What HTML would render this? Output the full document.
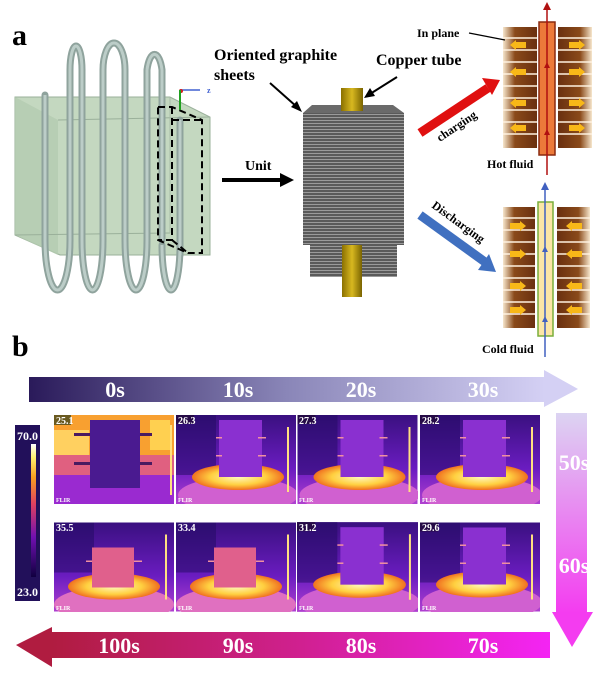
<!DOCTYPE html>
<html><head><meta charset="utf-8"><style>
html,body{margin:0;padding:0;background:#fff;width:600px;height:688px;overflow:hidden}
svg{display:block}
text{font-family:"Liberation Serif",serif;font-weight:bold}
</style></head><body>
<svg width="600" height="688" viewBox="0 0 600 688" xmlns="http://www.w3.org/2000/svg">
<defs>
<linearGradient id="gTop" x1="0" x2="1"><stop offset="0" stop-color="#2a1a5a"/><stop offset="0.5" stop-color="#8a86b8"/><stop offset="1" stop-color="#d4d0f4"/></linearGradient>
<linearGradient id="gDown" x1="0" y1="0" x2="0" y2="1"><stop offset="0" stop-color="#dcd4f2"/><stop offset="1" stop-color="#f43cf0"/></linearGradient>
<linearGradient id="gBot" x1="0" x2="1"><stop offset="0" stop-color="#b01c40"/><stop offset="0.5" stop-color="#d02090"/><stop offset="1" stop-color="#f424f4"/></linearGradient>
<linearGradient id="slab" x1="0" x2="1"><stop offset="0" stop-color="#f6e6cc"/><stop offset="0.35" stop-color="#8a4a1a"/><stop offset="1" stop-color="#6a3010"/></linearGradient>
<linearGradient id="slabR" x1="1" x2="0"><stop offset="0" stop-color="#f6e6cc"/><stop offset="0.35" stop-color="#8a4a1a"/><stop offset="1" stop-color="#6a3010"/></linearGradient>
<linearGradient id="cbar" x1="0" y1="1" x2="0" y2="0"><stop offset="0" stop-color="#100040"/><stop offset="0.3" stop-color="#7010b0"/><stop offset="0.55" stop-color="#e04060"/><stop offset="0.75" stop-color="#f8a020"/><stop offset="0.9" stop-color="#fff070"/><stop offset="1" stop-color="#ffffff"/></linearGradient>
<linearGradient id="pbg" x1="0" y1="0" x2="0" y2="1"><stop offset="0" stop-color="#3a1080"/><stop offset="0.6" stop-color="#6a1cc0"/><stop offset="1" stop-color="#b040d0"/></linearGradient>
<radialGradient id="ring"><stop offset="0" stop-color="#fff8c0"/><stop offset="0.6" stop-color="#ffd040"/><stop offset="1" stop-color="#f07020"/></radialGradient>
<linearGradient id="gray" x1="0" x2="1"><stop offset="0" stop-color="#6a6a6a"/><stop offset="1" stop-color="#4a4a4a"/></linearGradient>
<linearGradient id="cu" x1="0" x2="1"><stop offset="0" stop-color="#8a7000"/><stop offset="0.5" stop-color="#d8b820"/><stop offset="1" stop-color="#7a6400"/></linearGradient>
<pattern id="lines" width="4" height="3" patternUnits="userSpaceOnUse"><rect width="4" height="3" fill="#5a5a5a"/><rect width="4" height="1" fill="#9a9a9a"/></pattern>
<symbol id="panel" viewBox="0 0 120 89">
<rect width="120" height="89" fill="url(#pbg)"/>
<rect x="0" y="0" width="40" height="60" fill="#200a60" opacity="0.5"/>
<ellipse cx="62" cy="80" rx="60" ry="18" fill="#d060d0"/>
<ellipse cx="62" cy="62" rx="46" ry="13" fill="url(#ring)"/>
<rect x="43" y="5" width="43" height="57" fill="#8a30d0"/>
<rect x="40" y="40" width="6" height="1.5" fill="#f090a0"/><rect x="82" y="40" width="8" height="1.5" fill="#f090a0"/>
<rect x="40" y="22" width="6" height="1.5" fill="#f090a0"/><rect x="82" y="22" width="8" height="1.5" fill="#f090a0"/>
<rect x="111" y="12" width="2" height="65" fill="#ffe080"/>
<rect x="0" y="0" width="18" height="9" fill="#20082a" opacity="0.6"/>
</symbol>
<symbol id="panel2" viewBox="0 0 120 89">
<rect width="120" height="89" fill="url(#pbg)"/>
<rect x="0" y="0" width="40" height="50" fill="#200a60" opacity="0.5"/>
<ellipse cx="60" cy="82" rx="60" ry="18" fill="#e070c0"/>
<ellipse cx="60" cy="64" rx="46" ry="13" fill="url(#ring)"/>
<rect x="38" y="25" width="42" height="40" fill="#e0608c"/>
<rect x="32" y="38" width="6" height="1.5" fill="#f090a0"/><rect x="80" y="38" width="8" height="1.5" fill="#f090a0"/>
<rect x="111" y="12" width="2" height="65" fill="#ffe080"/>
</symbol>
</defs>

<!-- a -->
<text x="12" y="45" font-size="30" fill="#000">a</text>
<!-- Green box -->
<polygon points="15,97 170,97 210,117 210,255 60,255 15,235" fill="#c4d8c0" stroke="#9ab09a" stroke-width="1"/>
<polygon points="15,97 58,120 58,255 15,235" fill="#b4ccb0" opacity="0.8"/>
<line x1="58" y1="120" x2="210" y2="117" stroke="#9ab09a"/>
<line x1="15" y1="235" x2="170" y2="233" stroke="#9ab09a"/>
<line x1="170" y1="97" x2="170" y2="233" stroke="#a8bca8"/>
<g fill="none" stroke="#8fa39d" stroke-width="7" stroke-linecap="round">
<path d="M45 95 V240 M70 70 V240 M82 70 V240 M103 70 V240 M125 70 V240 M147 70 V240 M162 70 V240 M180 120 V255"/>
<path d="M70 70 A6 24 0 0 1 82 70 M103 70 A11 27 0 0 1 125 70 M147 70 A8 24 0 0 1 162 70"/>
<path d="M45 240 A12.5 50 0 0 0 70 240 M82 240 A10.5 50 0 0 0 103 240 M125 240 A11 50 0 0 0 147 240 M162 245 A9 45 0 0 0 180 245"/>
</g>
<g fill="none" stroke="#bccdc8" stroke-width="3">
<path d="M45 95 V240 M70 70 V240 M82 70 V240 M103 70 V240 M125 70 V240 M147 70 V240 M162 70 V240 M180 120 V255"/>
<path d="M70 70 A6 24 0 0 1 82 70 M103 70 A11 27 0 0 1 125 70 M147 70 A8 24 0 0 1 162 70"/>
<path d="M45 240 A12.5 50 0 0 0 70 240 M82 240 A10.5 50 0 0 0 103 240 M125 240 A11 50 0 0 0 147 240 M162 245 A9 45 0 0 0 180 245"/>
</g>
<g fill="none" stroke="#000" stroke-width="2" stroke-dasharray="7,4">
<polygon points="158,107 172,107 202,120 202,253 188,253 158,240"/>
<path d="M172 107 L172 240 L158 240 M172 240 L188 253 M172 120 L202 120"/>
</g>
<line x1="180" y1="90" x2="200" y2="90" stroke="#4060d0" stroke-width="1.5"/><circle cx="181" cy="91" r="2" fill="#d02020"/>
<line x1="180" y1="90" x2="180" y2="110" stroke="#20a020" stroke-width="2"/>
<text x="207" y="93" font-size="8" fill="#4060d0" font-weight="normal">z</text>

<!-- Unit arrow -->
<text x="245" y="170" font-size="14" fill="#000">Unit</text>
<line x1="222" y1="180" x2="282" y2="180" stroke="#000" stroke-width="4"/>
<polygon points="280,173 294,180 280,187" fill="#000"/>

<!-- Graphite block -->
<rect x="310" y="245" width="87" height="32" fill="url(#lines)"/>
<polygon points="303,113 312,105 393,105 404,113" fill="#6a6a6a"/>
<rect x="303" y="113" width="101" height="132" fill="url(#lines)"/>
<rect x="341" y="88" width="22" height="23" fill="url(#cu)"/>
<rect x="342" y="245" width="20" height="52" fill="url(#cu)"/>
<text x="214" y="60" font-size="16" fill="#000">Oriented graphite</text>
<text x="214" y="80" font-size="16" fill="#000">sheets</text>
<line x1="270" y1="83" x2="297" y2="107" stroke="#000" stroke-width="2"/>
<polygon points="302,112 291,107 297,101" fill="#000"/>
<text x="376" y="65" font-size="16" fill="#000">Copper tube</text>
<line x1="397" y1="77" x2="370" y2="94" stroke="#000" stroke-width="2"/>
<polygon points="364,98 370,88 375,96" fill="#000"/>

<!-- charging -->
<line x1="420" y1="133" x2="488" y2="88" stroke="#e01010" stroke-width="9"/>
<polygon points="482,78 500,80 492,95" fill="#e01010"/>
<text x="0" y="0" font-size="12" fill="#000" transform="translate(440,142) rotate(-34)">charging</text>
<!-- discharging -->
<line x1="420" y1="215" x2="485" y2="262" stroke="#4070c0" stroke-width="9"/>
<polygon points="478,270 496,272 489,254" fill="#4070c0"/>
<text x="0" y="0" font-size="12" fill="#000" transform="translate(431,207) rotate(36)">Discharging</text>

<!-- top unit diagram -->
<rect x="503" y="27" width="34" height="121" fill="url(#slab)"/>
<rect x="558" y="27" width="34" height="121" fill="url(#slabR)"/>
<g stroke="#fff2e0" stroke-width="1.5">
<path d="M503 38H537M503 50H537M503 62H537M503 74H537M503 86H537M503 98H537M503 110H537M503 122H537M503 134H537"/>
<path d="M558 38H592M558 50H592M558 62H592M558 74H592M558 86H592M558 98H592M558 110H592M558 122H592M558 134H592"/>
</g>
<rect x="539" y="22" width="16" height="133" fill="#ec7a3a" stroke="#8a2a10" stroke-width="1.5"/>
<line x1="547" y1="8" x2="547" y2="175" stroke="#b01010" stroke-width="1.5"/>
<polygon points="543,10 547,2 551,10" fill="#b01010"/>
<polygon points="544,68 547,62 550,68" fill="#b01010"/><polygon points="544,135 547,129 550,135" fill="#b01010"/>
<g fill="#f8b818">
<polygon points="510,45 516,40 516,42 526,42 526,48 516,48 516,50"/><polygon points="510,72 516,67 516,69 526,69 526,75 516,75 516,77"/>
<polygon points="510,103 516,98 516,100 526,100 526,106 516,106 516,108"/><polygon points="510,128 516,123 516,125 526,125 526,131 516,131 516,133"/>
<polygon points="585,45 579,40 579,42 569,42 569,48 579,48 579,50"/><polygon points="585,72 579,67 579,69 569,69 569,75 579,75 579,77"/>
<polygon points="585,103 579,98 579,100 569,100 569,106 579,106 579,108"/><polygon points="585,128 579,123 579,125 569,125 569,131 579,131 579,133"/>
</g>
<text x="417" y="37" font-size="12" fill="#000">In plane</text>
<line x1="469" y1="33" x2="505" y2="40" stroke="#000" stroke-width="1.2"/>
<text x="487" y="168" font-size="12" fill="#000">Hot fluid</text>

<!-- bottom unit diagram -->
<rect x="503" y="207" width="32" height="121" fill="url(#slab)"/>
<rect x="557" y="207" width="33" height="121" fill="url(#slabR)"/>
<g stroke="#fff2e0" stroke-width="1.5">
<path d="M503 218H535M503 230H535M503 242H535M503 254H535M503 266H535M503 278H535M503 290H535M503 302H535M503 314H535"/>
<path d="M557 218H590M557 230H590M557 242H590M557 254H590M557 266H590M557 278H590M557 290H590M557 302H590M557 314H590"/>
</g>
<rect x="538" y="202" width="15" height="134" fill="#fbe6a6" stroke="#7aae3a" stroke-width="1.5"/>
<line x1="545" y1="188" x2="545" y2="357" stroke="#4060c0" stroke-width="1.5"/>
<polygon points="541,190 545,182 549,190" fill="#4060c0"/>
<polygon points="542,252 545,246 548,252" fill="#4060c0"/><polygon points="542,322 545,316 548,322" fill="#4060c0"/>
<g fill="#f8b818">
<polygon points="526,226 520,221 520,223 510,223 510,229 520,229 520,231"/><polygon points="526,254 520,249 520,251 510,251 510,257 520,257 520,259"/>
<polygon points="526,286 520,281 520,283 510,283 510,289 520,289 520,291"/><polygon points="526,310 520,305 520,307 510,307 510,313 520,313 520,315"/>
<polygon points="566,226 572,221 572,223 582,223 582,229 572,229 572,231"/><polygon points="566,254 572,249 572,251 582,251 582,257 572,257 572,259"/>
<polygon points="566,286 572,281 572,283 582,283 582,289 572,289 572,291"/><polygon points="566,310 572,305 572,307 582,307 582,313 572,313 572,315"/>
</g>
<text x="482" y="353" font-size="12" fill="#000">Cold fluid</text>

<!-- b -->
<text x="12" y="356" font-size="30" fill="#000">b</text>

<!-- top arrow -->
<rect x="29" y="377" width="516" height="25" fill="url(#gTop)"/>
<polygon points="544,370 578,389 544,407" fill="#d4d0f4"/>
<g font-size="22" fill="#fff" text-anchor="middle">
<text x="115" y="397">0s</text><text x="238" y="397">10s</text><text x="361" y="397">20s</text><text x="483" y="397">30s</text>
</g>
<!-- down arrow -->
<rect x="556" y="413" width="31" height="200" fill="url(#gDown)"/>
<polygon points="552,612 593,612 572,647" fill="#f43cf0"/>
<g font-size="22" fill="#fff" text-anchor="middle">
<text x="574" y="470">50s</text><text x="574" y="573">60s</text>
</g>
<!-- bottom arrow -->
<rect x="52" y="632" width="498" height="26" fill="url(#gBot)"/>
<polygon points="52,627 16,645 52,667" fill="#b01c40"/>
<g font-size="22" fill="#fff" text-anchor="middle">
<text x="119" y="653">100s</text><text x="238" y="653">90s</text><text x="361" y="653">80s</text><text x="483" y="653">70s</text>
</g>

<!-- colorbar -->
<rect x="15" y="425" width="25" height="176" fill="#22105a"/>
<rect x="31" y="444" width="5" height="133" fill="url(#cbar)"/>
<text x="17" y="440" font-size="12" fill="#fff" font-weight="normal" font-family="Liberation Sans,sans-serif">70.0</text>
<text x="17" y="596" font-size="12" fill="#fff" font-weight="normal" font-family="Liberation Sans,sans-serif">23.0</text>

<!-- panel 1 special -->
<g>
<rect x="54" y="415" width="120" height="89" fill="#8a20c0"/>
<rect x="54" y="415" width="120" height="40" fill="#f8a030"/>
<rect x="54" y="430" width="35" height="25" fill="#ffd060"/>
<rect x="150" y="420" width="20" height="30" fill="#ffd050"/>
<rect x="54" y="455" width="120" height="20" fill="#e06080"/>
<rect x="54" y="475" width="120" height="29" fill="#9a2ad0"/>
<rect x="90" y="420" width="50" height="68" fill="#4a1a90"/>
<rect x="74" y="433" width="16" height="3" fill="#4a1a60"/><rect x="140" y="433" width="12" height="3" fill="#4a1a60"/>
<rect x="74" y="462" width="16" height="3" fill="#4a1a60"/><rect x="140" y="462" width="12" height="3" fill="#4a1a60"/>
<rect x="170" y="425" width="2" height="70" fill="#ffe080"/>
<rect x="54" y="415" width="17" height="10" fill="#6a5a20"/>
</g>
<use href="#panel" x="176" y="415" width="120" height="89"/>
<use href="#panel" x="297" y="415" width="121" height="89"/>
<use href="#panel" x="420" y="415" width="120" height="89"/>
<use href="#panel2" x="54" y="522" width="120" height="90"/>
<use href="#panel2" x="176" y="522" width="120" height="90"/>
<use href="#panel" x="297" y="522" width="121" height="90"/>
<use href="#panel" x="420" y="522" width="120" height="90"/>
<g font-size="10" fill="#fff" font-weight="normal" font-family="Liberation Sans,sans-serif">
<text x="56" y="424">25.1</text><text x="178" y="424">26.3</text><text x="299" y="424">27.3</text><text x="422" y="424">28.2</text>
<text x="56" y="531">35.5</text><text x="178" y="531">33.4</text><text x="299" y="531">31.2</text><text x="422" y="531">29.6</text>
</g>
<g font-size="6" fill="#fff" font-weight="bold" font-family="Liberation Sans,sans-serif">
<text x="56" y="502">FLIR</text><text x="178" y="502">FLIR</text><text x="299" y="502">FLIR</text><text x="422" y="502">FLIR</text>
<text x="56" y="610">FLIR</text><text x="178" y="610">FLIR</text><text x="299" y="610">FLIR</text><text x="422" y="610">FLIR</text>
</g>
</svg>
</body></html>
